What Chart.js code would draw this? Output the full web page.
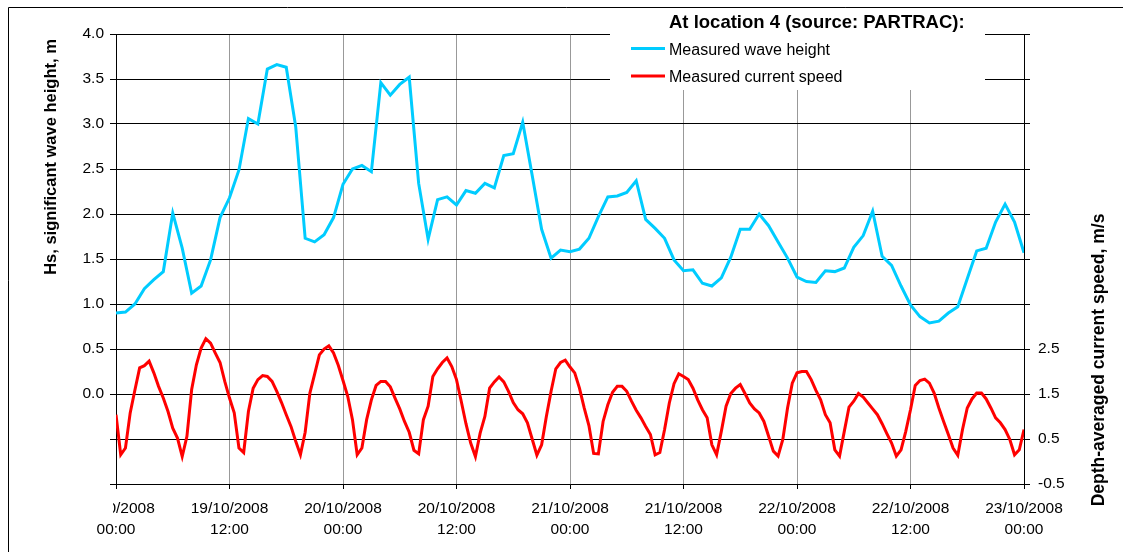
<!DOCTYPE html>
<html>
<head>
<meta charset="utf-8">
<script src="https://cdn.jsdelivr.net/npm/chart.js@4.4.1/dist/chart.umd.min.js"></script>
<style>
  html, body { margin: 0; padding: 0; background: #fff; }
  #wrap { position: relative; width: 1123px; height: 552px; }
</style>
</head>
<body>
<div id="wrap"><canvas id="chart"></canvas></div>
<script>
// x ticks every 12 hours from 19/10/2008 00:00
const tickLabels = [
  ["19/10/2008", "00:00"], ["19/10/2008", "12:00"], ["20/10/2008", "00:00"],
  ["20/10/2008", "12:00"], ["21/10/2008", "00:00"], ["21/10/2008", "12:00"],
  ["22/10/2008", "00:00"], ["22/10/2008", "12:00"], ["23/10/2008", "00:00"]
];

// hourly Hs (m)
const waveHeight = [
  0.90, 0.91, 1.00, 1.17, 1.27, 1.36, 2.01, 1.62, 1.12, 1.20, 1.49, 1.96,
  2.18, 2.49, 3.06, 3.00, 3.61, 3.66, 3.63, 2.97, 1.73, 1.69, 1.77, 1.96,
  2.33, 2.50, 2.54, 2.47, 3.46, 3.32, 3.44, 3.52, 2.34, 1.72, 2.16, 2.19,
  2.10, 2.26, 2.23, 2.34, 2.29, 2.65, 2.67, 3.02, 2.43, 1.83, 1.51, 1.60,
  1.58, 1.61, 1.73, 1.97, 2.19, 2.20, 2.24, 2.37, 1.94, 1.84, 1.73, 1.49,
  1.37, 1.38, 1.23, 1.20, 1.29, 1.52, 1.83, 1.83, 2.00, 1.87, 1.69, 1.51,
  1.30, 1.25, 1.24, 1.37, 1.36, 1.40, 1.63, 1.76, 2.03, 1.53, 1.43, 1.20,
  0.99, 0.86, 0.79, 0.81, 0.90, 0.97, 1.28, 1.59, 1.62, 1.91, 2.11, 1.91,
  1.57
];

// half-hourly depth-averaged current speed (m/s)
const currentSpeed = [
  1.04, 0.15, 0.30, 1.08, 1.59, 2.08, 2.13, 2.23, 1.97, 1.67, 1.41, 1.11,
  0.74, 0.52, 0.11, 0.56, 1.60, 2.15, 2.52, 2.73, 2.63, 2.41, 2.20, 1.78,
  1.41, 1.08, 0.30, 0.20, 1.11, 1.63, 1.82, 1.91, 1.89, 1.78, 1.56, 1.31,
  1.04, 0.78, 0.45, 0.15, 0.65, 1.52, 1.94, 2.37, 2.50, 2.57, 2.41, 2.14,
  1.80, 1.45, 0.93, 0.15, 0.30, 0.93, 1.37, 1.69, 1.78, 1.78, 1.66, 1.41,
  1.17, 0.89, 0.65, 0.25, 0.17, 0.93, 1.23, 1.89, 2.06, 2.20, 2.30, 2.11,
  1.82, 1.34, 0.84, 0.41, 0.11, 0.63, 1.00, 1.63, 1.77, 1.88, 1.77, 1.56,
  1.31, 1.15, 1.06, 0.86, 0.50, 0.14, 0.37, 1.00, 1.56, 2.06, 2.20, 2.25,
  2.10, 1.97, 1.63, 1.19, 0.80, 0.18, 0.17, 0.89, 1.26, 1.54, 1.67, 1.67,
  1.56, 1.34, 1.14, 0.97, 0.78, 0.60, 0.15, 0.20, 0.71, 1.30, 1.73, 1.95,
  1.89, 1.82, 1.63, 1.37, 1.15, 0.97, 0.37, 0.15, 0.67, 1.23, 1.51, 1.63,
  1.71, 1.51, 1.30, 1.17, 1.08, 0.89, 0.56, 0.23, 0.12, 0.49, 1.19, 1.74,
  1.97, 2.00, 2.00, 1.82, 1.58, 1.37, 1.04, 0.86, 0.26, 0.12, 0.67, 1.21,
  1.34, 1.51, 1.43, 1.30, 1.17, 1.04, 0.84, 0.62, 0.41, 0.12, 0.26, 0.67,
  1.15, 1.69, 1.80, 1.83, 1.74, 1.52, 1.19, 0.89, 0.60, 0.30, 0.14, 0.71,
  1.19, 1.39, 1.52, 1.52, 1.39, 1.19, 0.97, 0.86, 0.71, 0.49, 0.15, 0.26,
  0.71
];

const waveStep = 1;      // hours between wave samples
const currentStep = 0.5; // hours between current samples

const FONT = '"Liberation Sans", Arial, sans-serif';

// frame, legend box and axis titles (drawn by hand like the Excel original)
const decorations = {
  id: 'decorations',
  afterDraw(chart) {
    const ctx = chart.ctx;
    ctx.save();

    // outer chart border (runs off the right/bottom edge)
    ctx.strokeStyle = '#000';
    ctx.lineWidth = 1;
    ctx.beginPath();
    ctx.moveTo(8.5, 560);
    ctx.lineTo(8.5, 7.5);
    ctx.lineTo(1130, 7.5);
    ctx.stroke();

    // first date label is cut off on its left side in the original
    ctx.fillStyle = '#fff';
    ctx.fillRect(70, 498, 43, 20);

    // legend box
    ctx.fillStyle = '#fff';
    ctx.fillRect(610, 9, 375, 81);
    ctx.fillStyle = '#000';
    ctx.textBaseline = 'middle';
    ctx.textAlign = 'left';
    ctx.font = 'bold 18.5px ' + FONT;
    ctx.fillText('At location 4 (source: PARTRAC):', 669, 23);
    ctx.font = '16px ' + FONT;
    ctx.lineWidth = 3;
    ctx.strokeStyle = '#00CCFF';
    ctx.beginPath(); ctx.moveTo(631, 48.5); ctx.lineTo(665, 48.5); ctx.stroke();
    ctx.fillText('Measured wave height', 669, 51);
    ctx.strokeStyle = '#FF0000';
    ctx.beginPath(); ctx.moveTo(631, 76); ctx.lineTo(665, 76); ctx.stroke();
    ctx.fillText('Measured current speed', 669, 78);

    // axis titles
    ctx.textAlign = 'center';
    ctx.save();
    ctx.font = 'bold 16.5px ' + FONT;
    ctx.translate(51, 157);
    ctx.rotate(-Math.PI / 2);
    ctx.fillText('Hs, significant wave height, m', 0, 0);
    ctx.restore();
    ctx.save();
    ctx.font = 'bold 17.5px ' + FONT;
    ctx.translate(1099, 360);
    ctx.rotate(-Math.PI / 2);
    ctx.fillText('Depth-averaged current speed, m/s', 0, 0);
    ctx.restore();

    ctx.restore();
  }
};

const tickFont = { family: FONT, size: 15.5, lineHeight: 1.3 };

new Chart(document.getElementById('chart'), {
  type: 'line',
  data: {
    datasets: [
      {
        label: 'Measured wave height',
        data: waveHeight.map((v, i) => ({ x: i * waveStep, y: v })),
        borderColor: '#00CCFF',
        borderWidth: 3,
        pointRadius: 0,
        tension: 0,
        yAxisID: 'y'
      },
      {
        label: 'Measured current speed',
        data: currentSpeed.map((v, i) => ({ x: i * currentStep, y: v })),
        borderColor: '#FF0000',
        borderWidth: 3,
        pointRadius: 0,
        tension: 0,
        yAxisID: 'y2'
      }
    ]
  },
  options: {
    responsive: true,
    maintainAspectRatio: false,
    animation: false,
    events: [],
    layout: { padding: { top: 34, left: 0, right: 0, bottom: 0 } },
    plugins: {
      legend: { display: false },
      tooltip: { enabled: false }
    },
    scales: {
      x: {
        type: 'linear',
        min: 0,
        max: 96,
        afterFit(scale) { scale.height = 68; },
        afterBuildTicks(scale) {
          scale.ticks = tickLabels.map((_, i) => ({ value: i * 12 }));
        },
        ticks: {
          autoSkip: false,
          maxRotation: 0,
          color: '#000',
          font: tickFont,
          padding: 10,
          callback: (v) => tickLabels[Math.round(v / 12)]
        },
        grid: { color: '#999', lineWidth: 1, tickLength: 5, tickColor: '#000' },
        border: { color: '#000', width: 1 }
      },
      y: {
        position: 'left',
        min: -1,
        max: 4,
        afterFit(scale) { scale.width = 116; },
        ticks: {
          stepSize: 0.5,
          color: '#000',
          font: tickFont,
          padding: 6,
          callback: (v) => (v >= 0 ? v.toFixed(1) : '')
        },
        grid: { color: '#000', lineWidth: 1, tickLength: 6 },
        border: { color: '#000', width: 1 }
      },
      y2: {
        position: 'right',
        min: -0.5,
        max: 9.5,
        afterFit(scale) { scale.width = 99; },
        ticks: {
          stepSize: 1,
          color: '#000',
          font: tickFont,
          padding: 8,
          callback: (v) => (v <= 2.5 ? v.toFixed(1) : '')
        },
        grid: { drawOnChartArea: false, color: '#000', tickLength: 6 },
        border: { color: '#000', width: 1 }
      }
    }
  },
  plugins: [decorations]
});
</script>
</body>
</html>
